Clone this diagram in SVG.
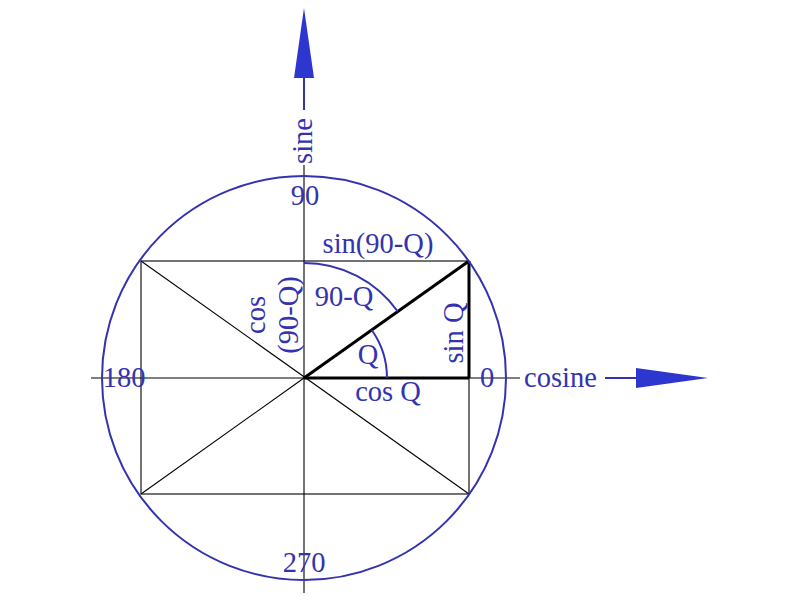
<svg xmlns="http://www.w3.org/2000/svg" width="800" height="600" viewBox="0 0 800 600">
<style>
text{font-family:"Liberation Serif","Times New Roman",serif;font-size:28.5px;fill:#3333b0}
.thin{stroke:#000;stroke-width:1.1;fill:none}
.thick{stroke:#000;stroke-width:3;fill:none}
.blue{stroke:#3333b0;stroke-width:2;fill:none}
.arrow{fill:#2e36d0;stroke:none}
</style>
<rect width="800" height="600" fill="#fff"/>
<g id="connectors">
<line class="thin" x1="91" y1="378" x2="520" y2="378"/>
<line class="thin" x1="304" y1="165" x2="304" y2="593"/>
<rect class="thin" x="141" y="261" width="328" height="233"/>
<line class="thin" x1="141" y1="261" x2="469" y2="494"/>
<line class="thin" x1="141" y1="494" x2="304" y2="378"/>
<line class="thick" x1="304" y1="378" x2="469" y2="261"/>
<line class="thick" x1="304" y1="378" x2="469" y2="378"/>
<line class="thick" x1="469" y1="261" x2="469" y2="378"/>
<line class="blue" x1="304" y1="78" x2="304" y2="110" stroke-width="1.5"/>
<line class="blue" x1="605" y1="378" x2="636" y2="378" stroke-width="1.5"/>
</g>
<g id="circle"><circle class="blue" cx="304" cy="378" r="202"/></g>
<g id="arcs">
<path class="blue" d="M387 378 A83 83 0 0 0 371.7 330"/>
<path class="blue" d="M304 263 A115 115 0 0 1 397.8 311.5"/>
</g>
<g id="sine-arrow"><polygon class="arrow" points="304,8 294,78 314,78"/></g>
<g id="cosine-arrow"><polygon class="arrow" points="708,378 636,368 636,388"/></g>
<g id="labels">
<text x="305" y="205" text-anchor="middle">90</text>
<text transform="translate(312,141) rotate(-90)" text-anchor="middle">sine</text>
<text x="124" y="387" text-anchor="middle">180</text>
<text x="487" y="387" text-anchor="middle">0</text>
<text x="524" y="387">cosine</text>
<text x="304" y="572" text-anchor="middle">270</text>
<text x="378" y="253" text-anchor="middle">sin(90-Q)</text>
<text x="344" y="306" text-anchor="middle">90-Q</text>
<text x="368" y="364" text-anchor="middle">Q</text>
<text transform="translate(463,333) rotate(-90)" text-anchor="middle">sin Q</text>
<text x="388" y="401" text-anchor="middle">cos Q</text>
<text transform="translate(265,315) rotate(-90)" text-anchor="middle">cos</text>
<text transform="translate(298,315) rotate(-90)" text-anchor="middle">(90-Q)</text>
</g>
</svg>
